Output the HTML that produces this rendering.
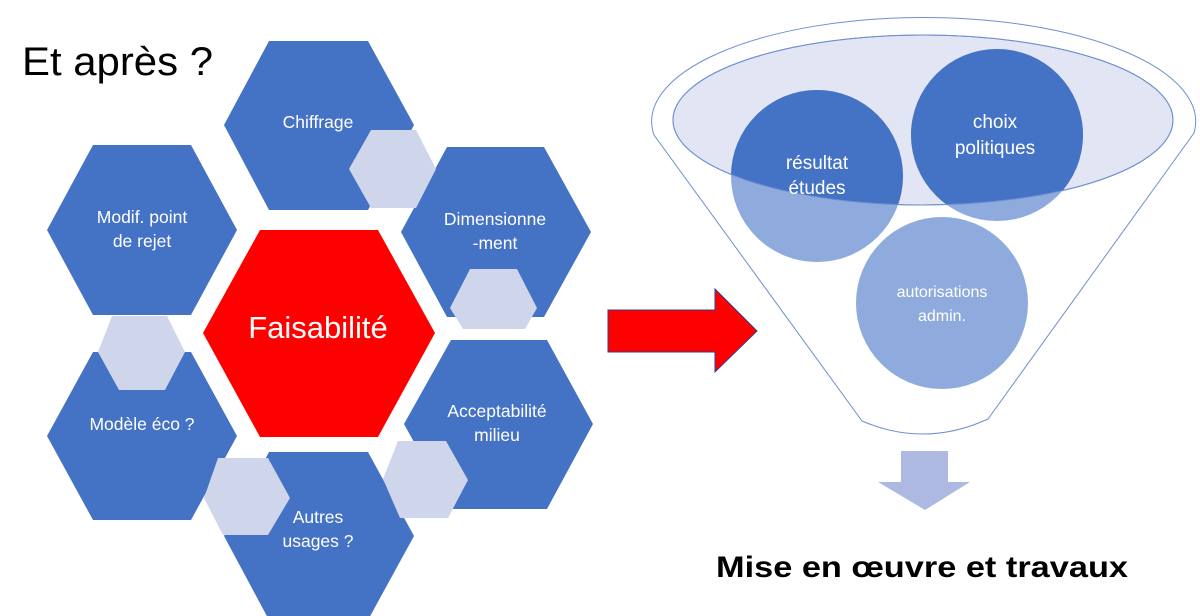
<!DOCTYPE html>
<html><head><meta charset="utf-8"><style>
html,body{margin:0;padding:0;background:#fff;}
svg{display:block;}
text{font-family:"Liberation Sans",sans-serif;}
</style></head><body>
<svg width="1200" height="616" viewBox="0 0 1200 616" xmlns="http://www.w3.org/2000/svg">
<defs>
<clipPath id="ec"><ellipse cx="923" cy="120" rx="250" ry="85"/></clipPath>
</defs>
<text x="22" y="75" font-size="40" fill="#000" textLength="191" lengthAdjust="spacingAndGlyphs">Et après ?</text>
<g fill="#4472c4">
<polygon points="224,125 269,41 368,41 414,125 368,210 269,210"/>
<polygon points="47,230 93,145 191,145 237,230 191,315 93,315"/>
<polygon points="401,232 447,147 544,147 591,232 544,317 447,317"/>
<polygon points="404,424 451,340 547,340 593,424 547,509 451,509"/>
<polygon points="47,436 93,352 191,352 237,436 191,520 93,520"/>
<polygon points="224,536 269,452 368,452 414,536 368,620 269,620"/>
</g>
<polygon points="203,333 260,230 378,230 435,333 378,437 260,437" fill="#ff0000"/>
<g fill="#cfd5ea">
<polygon points="349,169 371,130 416,130 436,169 416,208 371,208"/>
<polygon points="450,308 470,269 517,269 537,308 525,329 463,329"/>
<polygon points="98,352 112,316 167,316 185,352 165,390 119,390"/>
<polygon points="204,498 218,458 268,458 290,498 268,535 223,535"/>
<polygon points="383,479 398,441 446,441 468,480 448,518 400,518"/>
</g>
<g fill="#fff" font-size="17.5" text-anchor="middle">
<text x="318" y="128">Chiffrage</text>
<text x="142" y="223">Modif. point</text>
<text x="142" y="247">de rejet</text>
<text x="495" y="225">Dimensionne</text>
<text x="495" y="249">-ment</text>
<text x="497" y="417">Acceptabilité</text>
<text x="497" y="441">milieu</text>
<text x="142" y="430">Modèle éco ?</text>
<text x="318" y="523">Autres</text>
<text x="318" y="547">usages ?</text>
<text x="318" y="338" font-size="31">Faisabilité</text>
</g>
<path d="M654,135 A272,104 0 1 1 1194,133 L988,419 Q925,448 862,421 Z" fill="#fff" stroke="#6f8fd0" stroke-width="1"/>
<ellipse cx="923" cy="120" rx="250" ry="85" fill="#e2e5f3" stroke="#6f8fd0" stroke-width="1"/>
<g fill="#8faadc">
<circle cx="817" cy="176" r="86"/>
<circle cx="997" cy="135" r="86"/>
<circle cx="942" cy="303" r="86"/>
</g>
<g fill="#4472c4" clip-path="url(#ec)">
<circle cx="817" cy="176" r="86"/>
<circle cx="997" cy="135" r="86"/>
</g>
<ellipse cx="923" cy="120" rx="250" ry="85" fill="none" stroke="#6f8fd0" stroke-width="1"/>
<g fill="#fff" font-size="19" text-anchor="middle">
<text x="817" y="169">résultat</text>
<text x="817" y="194">études</text>
<text x="995" y="128">choix</text>
<text x="995" y="154">politiques</text>
<text x="942" y="297" font-size="16">autorisations</text>
<text x="942" y="321" font-size="16">admin.</text>
</g>
<polygon points="608,310 715,310 715,289 757,331 715,372 715,352 608,352" fill="#ff0000" stroke="#2f3f8f" stroke-width="1"/>
<polygon points="901,451 948,451 948,482 970,482 925,510 878,482 901,482" fill="#adb9e0"/>
<text x="716" y="577" font-size="30" font-weight="bold" fill="#000" textLength="412" lengthAdjust="spacingAndGlyphs">Mise en œuvre et travaux</text>
</svg>
</body></html>
